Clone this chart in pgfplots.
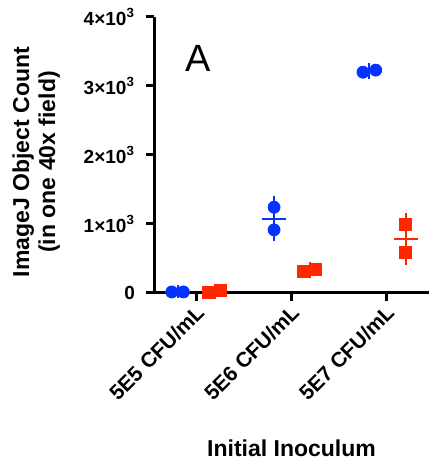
\documentclass[border=0pt]{standalone}
\usepackage{fontspec}
\setmainfont{Liberation Sans}
\usepackage{pgfplots}
\pgfplotsset{compat=1.18}

\definecolor{pblue}{RGB}{4,51,255}
\definecolor{pred}{RGB}{255,38,0}

\begin{document}
\begin{tikzpicture}
\begin{axis}[
    name=ax,
    scale only axis,
    width=137.5pt, height=138pt,
    axis lines=left,
    axis line style={-, line width=1.5pt},
    xmin=-0.45, xmax=2.445,
    ymin=0, ymax=4000,
    xtick={0,1,2},
    xticklabels={5E5 CFU/mL,5E6 CFU/mL,5E7 CFU/mL},
    ytick={0,1000,2000,3000,4000},
    yticklabels={0,1×10\textsuperscript{3},2×10\textsuperscript{3},3×10\textsuperscript{3},4×10\textsuperscript{3}},
    tick align=outside,
    major tick length=4pt,
    tick style={line width=1.5pt, black},
    ticklabel style={font=\fontsize{9.5}{10}\selectfont\bfseries},
    yticklabel style={xshift=-2pt},
    xticklabel style={rotate=45, anchor=east, font=\fontsize{10.5}{11}\selectfont\bfseries, xshift=2pt, yshift=-4pt},
    xlabel={Initial Inoculum},
    xlabel style={font=\fontsize{11.5}{12}\selectfont\bfseries, yshift=-11pt},
    ylabel={ImageJ Object Count\\(in one 40x field)},
    ylabel style={font=\fontsize{11.5}{13}\selectfont\bfseries, align=center, yshift=5pt, xshift=-3.5pt},
    clip=false,
]
% mean +- SD
\addplot[pblue, line width=1pt, mark=-, mark size=6pt, only marks,
    error bars/.cd, y dir=both, y explicit,
    error bar style={line width=1pt, pblue},
    error mark options={mark size=3.2pt, line width=1pt, pblue}]
    coordinates {
    (-0.20,15) +- (0,1)
    (0.814,1079) +- (0,232)
    (1.817,3215) +- (0,21)
};
\addplot[pred, line width=1pt, mark=-, mark size=6pt, only marks,
    error bars/.cd, y dir=both, y explicit,
    error bar style={line width=1pt, pred},
    error mark options={mark size=3.2pt, line width=1pt, pred}]
    coordinates {
    (0.19,21) +- (0,16)
    (1.19,330) +- (0,25)
    (2.20,787) +- (0,283)
};
% individual values
\addplot[only marks, mark=*, mark size=3pt, color=pblue, mark options={fill=pblue, draw=pblue}]
    coordinates {
    (-0.263,15) (-0.141,15)
    (0.814,1243) (0.814,915)
    (1.75,3200) (1.884,3230)
};
\addplot[only marks, mark=square*, mark size=3pt, color=pred, mark options={fill=pred, draw=pred}]
    coordinates {
    (0.122,10) (0.253,33)
    (1.123,312) (1.253,347)
    (2.20,987) (2.20,587)
};
\node[font=\fontsize{19}{19}\selectfont] at (axis cs:0.01,3400) {A};
\end{axis}
\pgfresetboundingbox
\path ([xshift=-77pt,yshift=-85pt]ax.south west) rectangle ([yshift=8.5pt]ax.north east);
\end{tikzpicture}
\end{document}
